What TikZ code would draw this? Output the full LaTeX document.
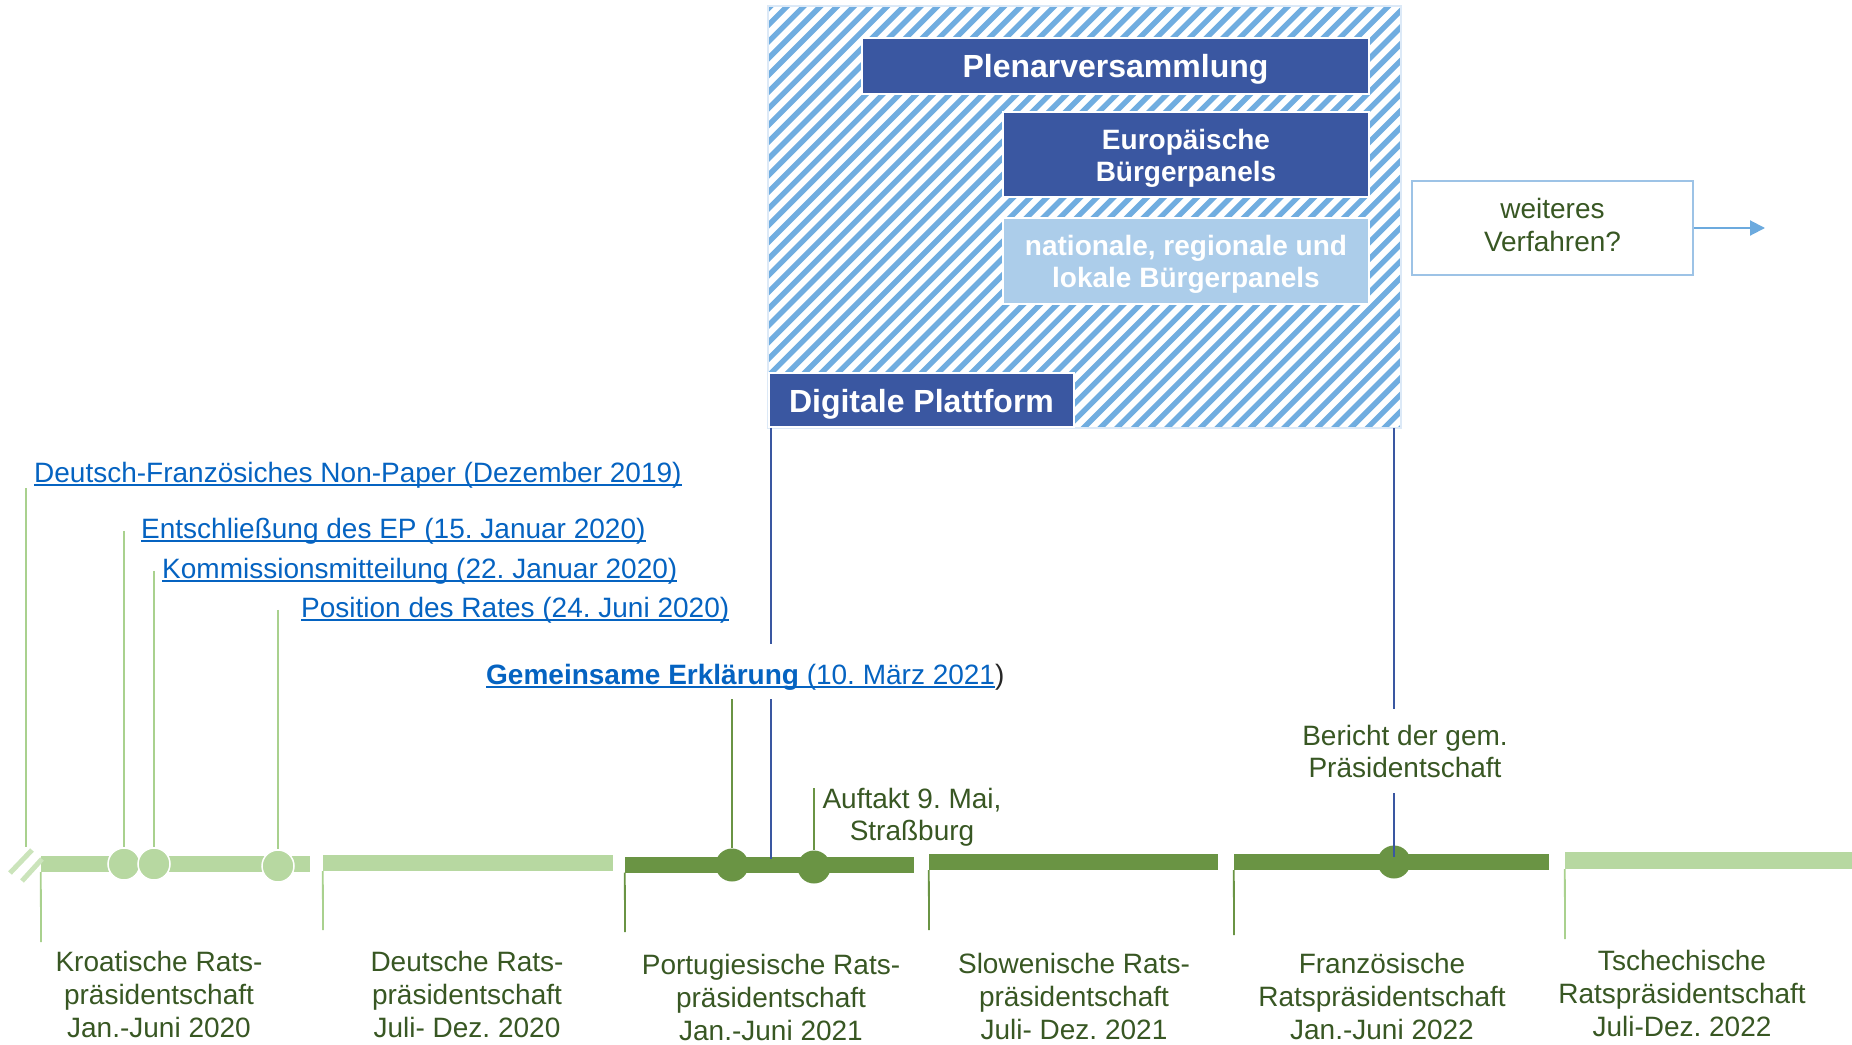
\documentclass[tikz,border=0pt]{standalone}
\usepackage{fontspec}
\setmainfont{Liberation Sans}
\usetikzlibrary{arrows.meta}
\definecolor{navy}{HTML}{3A57A1}
\definecolor{paleblue}{HTML}{ACCDEA}
\definecolor{hatchc}{HTML}{70ADE0}
\definecolor{hatchbd}{HTML}{DCE9F7}
\definecolor{lgreen}{HTML}{B7D8A1}
\definecolor{lgline}{HTML}{A9D18E}
\definecolor{slashc}{HTML}{CBE4BB}
\definecolor{dgreen}{HTML}{6A9444}
\definecolor{tgreen}{HTML}{385723}
\definecolor{linkblue}{HTML}{0563C1}
\definecolor{boxbd}{HTML}{9DC3E6}
\definecolor{arrowc}{HTML}{6CAADE}
\newcommand\mylink[1]{\setbox0=\hbox{#1}\rlap{\rule[-4pt]{\wd0}{2pt}}\box0}
\frenchspacing
\begin{document}
\begin{tikzpicture}[x=1pt,y=-1pt,
  every node/.style={inner sep=0pt},
  fnt/.style={font=\fontsize{28}{33}\selectfont},
  navybox/.style={rectangle, fill=navy, draw=white, line width=1.5pt},
  palebox/.style={navybox, fill=paleblue},
  boxtext/.style={text=white, align=center},
  bigbold/.style={font=\bfseries\fontsize{32}{36}\selectfont},
  midbold/.style={font=\bfseries\fontsize{28}{32}\selectfont},
  lbl/.style={fnt, text=tgreen, align=center},
  link/.style={fnt, text=linkblue, anchor=base west},
  lbar/.style={rectangle, fill=lgreen, minimum height=16pt},
  dbar/.style={rectangle, fill=dgreen, minimum height=16pt},
  ldot/.style={circle, fill=lgreen, draw=white, line width=1.5pt, minimum size=32pt},
  ddot/.style={circle, fill=dgreen, minimum size=33pt},
  lgl/.style={draw=lgline, line width=1.8pt},
  dgl/.style={draw=dgreen, line width=1.8pt},
  bluel/.style={draw=navy, line width=2.6pt},
  stripe/.style={draw=hatchc, line width=5.4pt},
]
\useasboundingbox (0,0) rectangle (1852,1044);

% ---------- hatched panel ----------
\node[rectangle, fill=white, minimum width=633pt, minimum height=422pt] (panel) at (1084.5,217) {};
\begin{scope}
  \clip (panel.south west) rectangle (panel.north east);
  \foreach \i in {0,...,66}{
    \pgfmathsetmacro\cc{760+16.7*\i}
    \draw[stripe] (\cc,0) -- ({\cc-500},500);
  }
\end{scope}
\draw[hatchbd, line width=2.5pt] (panel.south west) rectangle (panel.north east);

\node[navybox, minimum width=507pt, minimum height=56pt] (plen) at (1115.5,66) {};
\node[boxtext, bigbold] (plent) at ([yshift=-3.5pt]plen.center) {Plenarversammlung};
\node[navybox, minimum width=366pt, minimum height=85pt] (eur) at (1186,154.5) {};
\node[boxtext, midbold] (eurt) at ([yshift=-3.5pt]eur.center) {Europäische\\Bürgerpanels};
\node[palebox, minimum width=366pt, minimum height=86pt] (nat) at (1186,261) {};
\node[boxtext, midbold] (natt) at ([yshift=-3.5pt]nat.center) {nationale, regionale und\\lokale Bürgerpanels};
\node[navybox, minimum width=305pt, minimum height=54pt] (dig) at (921.5,400) {};
\node[boxtext, bigbold] (digt) at ([yshift=-4.5pt]dig.center) {Digitale Plattform};

% ---------- weiteres Verfahren ----------
\node[draw=boxbd, line width=2.5pt, fill=white, minimum width=281pt, minimum height=94pt] (wei) at (1552.5,228) {};
\node[lbl] (weit) at ([yshift=3pt]wei.center) {weiteres\\Verfahren?};
\coordinate (wend) at (1765,228);
\draw[draw=arrowc, line width=2pt, -{Triangle[length=15pt,width=15pt]}] (wei.east) -- (wend);

% ---------- timeline bars ----------
\node[lbar, minimum width=269pt] (p1) at (175.5,864) {};
\node[lbar, minimum width=290pt] (p2) at (468,863) {};
\node[dbar, minimum width=289pt] (p3) at (769.5,864.5) {};
\node[dbar, minimum width=289pt] (p4) at (1073.5,862) {};
\node[dbar, minimum width=315pt] (p5) at (1391.5,862) {};
\node[lbar, minimum width=287pt, minimum height=17pt] (p6) at (1708.5,860.5) {};

% slash marks
\draw[slashc, line width=5pt] (10,873) -- (32,850);
\draw[slashc, line width=5pt] (22,881) -- (42,859);

% ---------- dots ----------
\node[ldot] (c1) at (124,864) {};
\node[ldot] (c2) at (154,864) {};
\node[ldot] (c3) at (278,866) {};
\node[ddot] (c4) at (732,865) {};
\node[ddot] (c5) at (814,867) {};
\node[ddot] (c6) at (1394,862) {};

% ---------- ticks below ----------
\coordinate (t1) at (41,942);
\coordinate (t2) at (323,930);
\coordinate (t3) at (625,932);
\coordinate (t4) at (929,930);
\coordinate (t5) at (1234,935);
\coordinate (t6) at (1565,939);
\draw[lgl] (p1.south west) -- (t1);
\draw[lgl] (p2.south west) -- (t2);
\draw[dgl] (p3.south west) -- (t3);
\draw[dgl] (p4.south west) -- (t4);
\draw[dgl] (p5.south west) -- (t5);
\draw[lgl] (p6.south west) -- (t6);

% ---------- presidency labels ----------
\node[lbl] (kro) at (159,994.5) {Kroatische Rats-\\präsidentschaft\\Jan.-Juni 2020};
\node[lbl] (deu) at (467,994.5) {Deutsche Rats-\\präsidentschaft\\Juli- Dez. 2020};
\node[lbl] (por) at (771,997.5) {Portugiesische Rats-\\präsidentschaft\\Jan.-Juni 2021};
\node[lbl] (slo) at (1074,996) {Slowenische Rats-\\präsidentschaft\\Juli- Dez. 2021};
\node[lbl] (fra) at (1382,996) {Französische\\Ratspräsidentschaft\\Jan.-Juni 2022};
\node[lbl] (tsc) at (1682,993) {Tschechische\\Ratspräsidentschaft\\Juli-Dez. 2022};

% ---------- link texts ----------
\node[link] (np) at (34,482) {\mylink{Deutsch-Französiches Non-Paper (Dezember 2019)}};
\node[link] (ent) at (141,538) {\mylink{Entschließung des EP (15. Januar 2020)}};
\node[link] (kom) at (162,578) {\mylink{Kommissionsmitteilung (22. Januar 2020)}};
\node[link] (pos) at (301,617) {\mylink{Position des Rates (24. Juni 2020)}};
\node[link, inner ysep=9pt] (gem) at (486,684) {\mylink{\textbf{Gemeinsame Erklärung}}\mylink{ (10. März 2021}\textcolor{black!85}{)}};

\node[lbl, anchor=north, font=\fontsize{28}{32}\selectfont] (auf) at (912,788) {Auftakt 9. Mai,\\Straßburg};
\node[lbl, fill=white, inner ysep=16pt, font=\fontsize{28}{32}\selectfont] (ber) at (1405,751) {Bericht der gem.\\Präsidentschaft};

% ---------- connectors above ----------
\coordinate (sl) at (26,847);
\draw[lgl] (np.south -| sl) -- (sl);
\draw[lgl] (ent.west -| c1) -- (c1.north);
\draw[lgl] (kom.west -| c2) -- (c2.north);
\draw[lgl] (pos.west -| c3) -- (c3.north);
\draw[dgl] (gem.south -| c4) -- (c4.north);
\draw[dgl] (auf.north -| c5) -- (c5.north);

\coordinate (g1) at (771,644);
\coordinate (g2) at (771,699);
\coordinate (dend) at (771,859);
\draw[bluel] (dig.south -| g1) -- (g1);
\draw[bluel] (g2) -- (dend);
\draw[bluel] (panel.south -| c6) -- (ber.north -| c6);
\draw[bluel] (ber.south -| c6) -- ([yshift=5pt]c6.center);
\end{tikzpicture}
\end{document}
